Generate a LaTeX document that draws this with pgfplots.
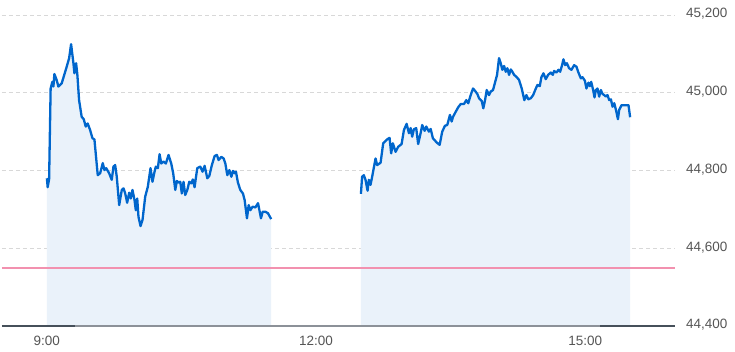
\documentclass[border=0pt]{standalone}
\usepackage{fontspec}
\setmainfont{Liberation Sans}
\usepackage{pgfplots}
\pgfplotsset{compat=1.18}
\usepackage{pgfplotstable}
\definecolor{lineblue}{RGB}{0,102,204}
\definecolor{fillblue}{RGB}{234,242,250}
\definecolor{gridgray}{RGB}{216,216,216}
\definecolor{labelgray}{RGB}{85,85,85}
\definecolor{axisdark}{RGB}{70,80,90}
\definecolor{axisgray}{RGB}{140,145,152}

\pgfplotstableread{
t v
9.000 44780
9.009 44757
9.025 44778
9.042 45011
9.061 45028
9.073 45016
9.084 45048
9.109 45033
9.128 45016
9.165 45024
9.221 45067
9.248 45089
9.270 45125
9.296 45076
9.307 45050
9.326 45076
9.340 45046
9.359 44981
9.388 44938
9.411 44932
9.433 44913
9.455 44921
9.482 44904
9.508 44883
9.530 44880
9.567 44788
9.594 44793
9.623 44819
9.642 44801
9.661 44806
9.694 44793
9.723 44776
9.742 44810
9.761 44814
9.779 44784
9.806 44711
9.835 44750
9.854 44754
9.873 44741
9.895 44717
9.917 44743
9.935 44728
9.954 44750
9.977 44724
9.991 44698
10.007 44728
10.021 44681
10.044 44657
10.066 44673
10.096 44733
10.125 44758
10.155 44806
10.177 44771
10.200 44797
10.214 44810
10.237 44806
10.256 44842
10.275 44818
10.300 44823
10.326 44818
10.356 44840
10.386 44818
10.408 44793
10.431 44750
10.449 44773
10.468 44769
10.487 44771
10.504 44741
10.523 44771
10.542 44737
10.565 44750
10.587 44771
10.609 44767
10.627 44777
10.646 44757
10.676 44806
10.710 44810
10.735 44797
10.758 44812
10.788 44780
10.810 44786
10.839 44814
10.869 44837
10.895 44840
10.914 44827
10.944 44835
10.970 44831
10.989 44818
11.011 44788
11.034 44801
11.056 44784
11.074 44799
11.093 44793
11.107 44797
11.129 44769
11.156 44750
11.185 44741
11.204 44724
11.230 44677
11.249 44711
11.268 44698
11.293 44707
11.324 44705
11.353 44716
11.372 44694
11.386 44677
11.405 44694
11.435 44694
11.464 44690
11.500 44675
}\morning

\pgfplotstableread{
t v
12.500 44740
12.513 44784
12.532 44788
12.551 44776
12.574 44748
12.588 44776
12.607 44763
12.625 44784
12.663 44831
12.681 44814
12.719 44820
12.748 44870
12.792 44880
12.819 44884
12.837 44844
12.856 44870
12.886 44848
12.915 44861
12.953 44868
12.979 44904
13.009 44920
13.035 44896
13.054 44909
13.071 44887
13.090 44906
13.116 44909
13.138 44868
13.165 44896
13.183 44917
13.210 44902
13.228 44913
13.258 44900
13.277 44907
13.302 44883
13.325 44877
13.350 44871
13.377 44866
13.406 44900
13.436 44915
13.462 44917
13.492 44943
13.511 44926
13.526 44938
13.556 44951
13.585 44963
13.612 44971
13.648 44971
13.674 44981
13.696 44973
13.723 44994
13.749 45011
13.771 45005
13.797 44997
13.816 44986
13.846 44979
13.864 44960
13.883 44981
13.902 45007
13.927 44994
13.946 45003
13.972 45007
13.994 45026
14.017 45046
14.039 45089
14.058 45076
14.076 45059
14.095 45069
14.114 45054
14.132 45063
14.151 45046
14.170 45060
14.188 45054
14.207 45046
14.233 45041
14.262 45033
14.292 45011
14.321 44981
14.344 44994
14.366 44983
14.393 44986
14.419 44994
14.449 45011
14.467 45020
14.493 45017
14.511 45040
14.534 45050
14.560 45035
14.586 45046
14.616 45052
14.638 45046
14.653 45056
14.679 45052
14.701 45059
14.720 45054
14.739 45069
14.757 45086
14.776 45071
14.795 45076
14.820 45063
14.846 45059
14.876 45071
14.902 45067
14.924 45052
14.951 45037
14.969 45040
14.996 45031
15.013 45011
15.036 45026
15.051 45017
15.066 45028
15.088 45007
15.103 44988
15.118 45007
15.136 45011
15.155 44990
15.174 45007
15.192 44997
15.211 44994
15.230 44990
15.248 44994
15.267 44981
15.286 44983
15.304 44964
15.323 44973
15.342 44956
15.364 44932
15.378 44956
15.404 44968
15.434 44968
15.460 44968
15.482 44968
15.500 44937
}\afternoon

\begin{document}
\begin{tikzpicture}[x=1pt,y=1pt]
\useasboundingbox (0,0) rectangle (735,351);
\begin{axis}[
  at={(2pt,25pt)}, anchor=south west,
  scale only axis, width=673pt, height=311pt,
  xmin=8.5, xmax=16, ymin=44400, ymax=45200,
  axis line style={draw=none},
  major tick length=0pt,
  scaled y ticks=false,
  xtick={9,12,15}, xticklabels={9:00,12:00,15:00},
  ytick={44400,44600,44800,45000,45200},
  yticklabel pos=right,
  yticklabel={\pgfmathprintnumber[fixed,precision=0,1000 sep={,},assume math mode=true]{\tick}},
  ymajorgrids,
  grid style={gridgray, dash pattern=on 4pt off 3pt, line width=0.9pt},
  xticklabel style={font=\fontsize{13.5}{16}\selectfont, text=labelgray, inner sep=0pt, anchor=center, yshift=-14.5pt},
  yticklabel style={font=\fontsize{13.5}{16}\selectfont, text=labelgray, inner sep=0pt, anchor=west, xshift=11pt, yshift=1pt},
]
\addplot[fill=fillblue, draw=none] table[x=t, y=v] {\morning} \closedcycle;
\addplot[fill=fillblue, draw=none] table[x=t, y=v] {\afternoon} \closedcycle;
\addplot[draw={rgb,255:red,242;green,145;blue,175}, line width=1.8pt, forget plot] coordinates {(8.5,44550) (16,44550)};
\addplot[draw=axisgray, line width=1.6pt] coordinates {(8.5,44400) (16,44400)};
\addplot[draw=axisdark, line width=1.6pt] coordinates {(8.5,44400) (9.318,44400)};
\addplot[draw=axisdark, line width=1.6pt] coordinates {(15.166,44400) (16,44400)};
\addplot[draw=lineblue, line width=2.3pt, line join=round] table[x=t, y=v] {\morning};
\addplot[draw=lineblue, line width=2.3pt, line join=round] table[x=t, y=v] {\afternoon};
\end{axis}
\end{tikzpicture}
\end{document}
